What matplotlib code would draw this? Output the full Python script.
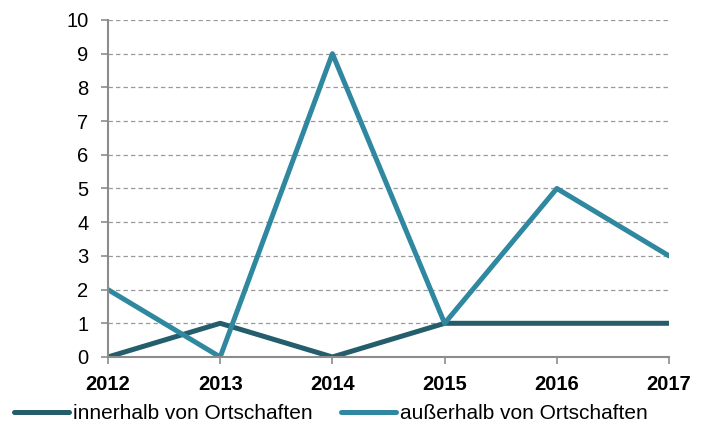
import matplotlib
matplotlib.use("Agg")
import matplotlib.pyplot as plt

plt.rcParams['font.family'] = ['Liberation Sans', 'DejaVu Sans']

# Daten
years = ["2012", "2013", "2014", "2015", "2016", "2017"]
innerhalb = [0, 1, 0, 1, 1, 1]
ausserhalb = [2, 0, 9, 1, 5, 3]
labels = ["innerhalb von Ortschaften", "außerhalb von Ortschaften"]

dark = "#245d6b"
light = "#2f88a0"
axis_grey = "#8c8c8c"

fig = plt.figure(figsize=(7.08, 4.25), dpi=100)
ax = fig.add_axes([0.1525, 0.16, 0.7925, 0.793])

x = list(range(len(years)))
ax.plot(x, innerhalb, color=dark, lw=3.6, label=labels[0], solid_capstyle="round")
ax.plot(x, ausserhalb, color=light, lw=3.6, label=labels[1], solid_capstyle="round")

ax.set_xlim(0, len(years) - 1)
ax.set_ylim(0, 10)
ax.set_yticks(range(0, 11))
ax.set_xticks(x)
ax.set_xticklabels(years, fontweight="bold")

# Gitternetz
ax.yaxis.grid(True, color="#999999", linestyle=(0, (3.5, 2.5)), linewidth=0.9)
ax.set_axisbelow(True)

for s in ("top", "right"):
    ax.spines[s].set_visible(False)
for s in ("left", "bottom"):
    ax.spines[s].set_color(axis_grey)
    ax.spines[s].set_linewidth(1.5)

ax.tick_params(axis="y", length=5, width=1.2, color=axis_grey, pad=9, labelsize=14.5)
ax.tick_params(axis="x", length=5, width=1.2, color=axis_grey, pad=8, labelsize=14.5)

fig.legend(loc="center", bbox_to_anchor=(0.467, 0.027), ncol=2, frameon=False,
           fontsize=15, handlelength=2.65, handletextpad=0.2, columnspacing=1.35,
           borderpad=0, borderaxespad=0)

fig.savefig("out.png", dpi=100)
